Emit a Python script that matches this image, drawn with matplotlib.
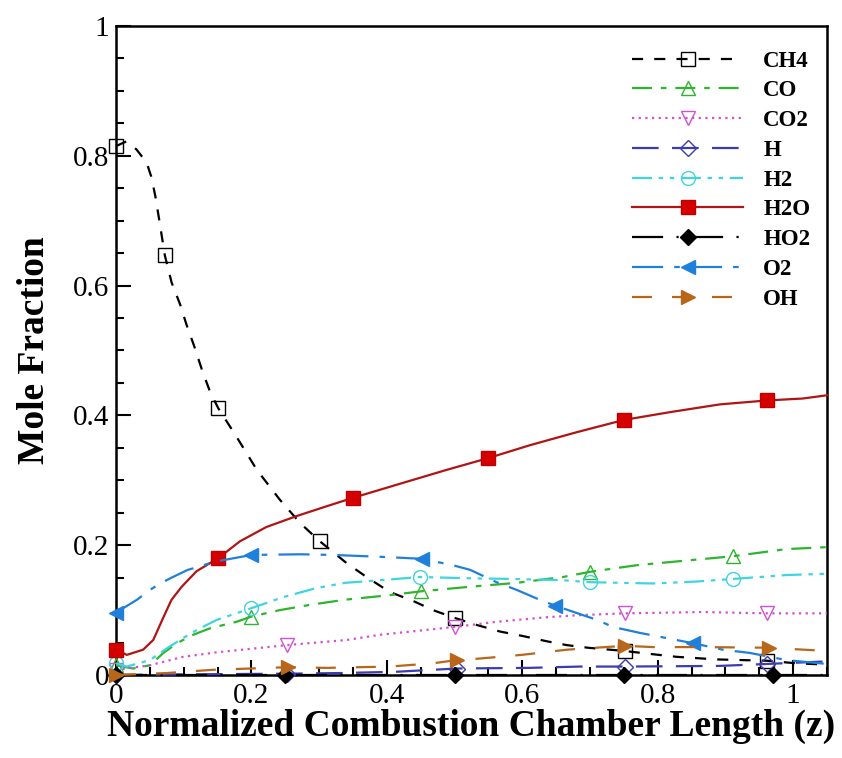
import numpy as np
import matplotlib
matplotlib.use("Agg")
import matplotlib.pyplot as plt
from matplotlib.ticker import MultipleLocator, FormatStrFormatter

# species mole fractions along the chamber (z normalised)
species = ["CH4", "CO", "CO2", "H", "H2", "H2O", "HO2", "O2", "OH"]

ch4_z = [0, 0.015, 0.030, 0.045, 0.052, 0.058, 0.064, 0.072, 0.082, 0.095, 0.104, 0.116,
         0.127, 0.139, 0.151, 0.178, 0.208, 0.242, 0.272, 0.301, 0.341, 0.370, 0.404,
         0.439, 0.468, 0.500, 0.533, 0.567, 0.601, 0.636, 0.666, 0.697, 0.751, 0.793,
         0.828, 0.887, 0.961, 1.005, 1.05]
ch4_y = [0.815, 0.822, 0.810, 0.790, 0.768, 0.738, 0.700, 0.647, 0.605, 0.570, 0.540, 0.505,
         0.470, 0.436, 0.411, 0.367, 0.316, 0.270, 0.234, 0.206, 0.172, 0.151, 0.128,
         0.114, 0.100, 0.088, 0.077, 0.067, 0.060, 0.052, 0.046, 0.042, 0.037, 0.032,
         0.028, 0.024, 0.022, 0.018, 0.016]
ch4_mark = [0, 0.072, 0.151, 0.301, 0.500, 0.751, 0.961]

co_z = [0, 0.025, 0.050, 0.070, 0.090, 0.114, 0.139, 0.178, 0.200, 0.242, 0.286, 0.338,
        0.404, 0.451, 0.523, 0.592, 0.660, 0.700, 0.768, 0.818, 0.911, 0.990, 1.05]
co_y = [0.015, 0.010, 0.015, 0.034, 0.049, 0.062, 0.072, 0.082, 0.090, 0.100, 0.108, 0.116,
        0.123, 0.129, 0.136, 0.142, 0.151, 0.159, 0.169, 0.174, 0.183, 0.194, 0.197]
co_mark = [0, 0.200, 0.451, 0.700, 0.911]

co2_z = [0, 0.050, 0.099, 0.149, 0.252, 0.341, 0.390, 0.463, 0.500, 0.562, 0.636, 0.680,
         0.751, 0.866, 0.962, 1.05]
co2_y = [0.008, 0.015, 0.028, 0.035, 0.046, 0.054, 0.062, 0.070, 0.074, 0.082, 0.089, 0.092,
         0.095, 0.097, 0.095, 0.095]
co2_mark = [0, 0.252, 0.500, 0.751, 0.962]

h_z = [0, 0.100, 0.252, 0.331, 0.414, 0.503, 0.611, 0.685, 0.751, 0.891, 0.961, 1.05]
h_y = [0.0, 0.001, 0.002, 0.003, 0.005, 0.010, 0.011, 0.013, 0.013, 0.014, 0.017, 0.021]
h_mark = [0, 0.252, 0.503, 0.751, 0.961]

h2_z = [0, 0.016, 0.050, 0.075, 0.099, 0.124, 0.149, 0.200, 0.247, 0.296, 0.338, 0.390,
        0.449, 0.523, 0.586, 0.660, 0.700, 0.793, 0.857, 0.911, 0.990, 1.05]
h2_y = [0.018, 0.013, 0.023, 0.041, 0.057, 0.072, 0.085, 0.103, 0.120, 0.134, 0.142, 0.146,
        0.151, 0.149, 0.148, 0.146, 0.143, 0.141, 0.144, 0.148, 0.154, 0.156]
h2_mark = [0, 0.200, 0.449, 0.700, 0.911]

h2o_z = [0, 0.016, 0.040, 0.055, 0.070, 0.082, 0.097, 0.119, 0.151, 0.183, 0.222, 0.267,
         0.311, 0.350, 0.414, 0.488, 0.549, 0.611, 0.680, 0.750, 0.818, 0.892, 0.961,
         1.014, 1.05]
h2o_y = [0.039, 0.031, 0.039, 0.054, 0.089, 0.116, 0.136, 0.160, 0.180, 0.206, 0.228, 0.245,
         0.260, 0.273, 0.293, 0.316, 0.334, 0.354, 0.374, 0.393, 0.405, 0.417, 0.423,
         0.426, 0.431]
h2o_mark = [0, 0.151, 0.350, 0.549, 0.750, 0.961]

ho2_z = [0, 0.25, 0.50, 0.75, 0.97, 1.05]
ho2_y = [0, 0, 0, 0, 0, 0]
ho2_mark = [0, 0.25, 0.50, 0.75, 0.97]

o2_z = [0, 0.006, 0.031, 0.050, 0.062, 0.080, 0.106, 0.129, 0.143, 0.200, 0.272, 0.320,
        0.394, 0.452, 0.498, 0.523, 0.562, 0.592, 0.621, 0.648, 0.710, 0.734, 0.773,
        0.852, 0.896, 0.936, 0.990, 1.05]
o2_y = [0.095, 0.100, 0.116, 0.131, 0.139, 0.149, 0.162, 0.169, 0.174, 0.185, 0.186, 0.185,
        0.182, 0.179, 0.169, 0.162, 0.143, 0.131, 0.118, 0.107, 0.085, 0.074, 0.065,
        0.049, 0.039, 0.034, 0.023, 0.017]
o2_mark = [0, 0.200, 0.452, 0.648, 0.852]

oh_z = [0, 0.075, 0.143, 0.254, 0.311, 0.404, 0.468, 0.503, 0.533, 0.599, 0.666, 0.751,
        0.793, 0.866, 0.965, 1.05]
oh_y = [0.0, 0.003, 0.008, 0.012, 0.011, 0.013, 0.018, 0.023, 0.025, 0.031, 0.039, 0.045,
        0.043, 0.043, 0.042, 0.037]
oh_mark = [0, 0.254, 0.503, 0.751, 0.965]

data = [(ch4_z, ch4_y, ch4_mark), (co_z, co_y, co_mark), (co2_z, co2_y, co2_mark),
        (h_z, h_y, h_mark), (h2_z, h2_y, h2_mark), (h2o_z, h2o_y, h2o_mark),
        (ho2_z, ho2_y, ho2_mark), (o2_z, o2_y, o2_mark), (oh_z, oh_y, oh_mark)]

# line colour, dash pattern, marker, marker face, marker size
styles = [
    ("black",   (0, (5, 5)),             "s", "none",    10),
    ("#2db52d", (0, (9, 4, 2.5, 4)),     "^", "none",    10),
    ("#d24fd2", (0, (1, 2)),             "v", "none",    10),
    ("#3c3cb0", (0, (12, 6)),            "D", "none",    8.5),
    ("#3fd5df", (0, (9, 3, 2, 3, 2, 3)), "o", "none",    10),
    ("#b01414", "-",                     "s", "#d40000", 9.5),
    ("black",   (0, (14, 6, 1, 6)),      "D", "black",   8.5),
    ("#1f80dc", (0, (14, 5, 2.5, 5)),    "<", "#1f80dc", 10),
    ("#b8671a", (0, (9, 9)),             ">", "#b8671a", 10),
]

plt.rcParams["font.family"] = ["Liberation Serif", "DejaVu Serif"]

fig = plt.figure(figsize=(8.42, 7.58), dpi=100)
ax = fig.add_axes([0.1378, 0.1095, 0.8444, 0.8562])

for name, (z, y, mk), (col, ls, m, mfc, ms) in zip(species, data, styles):
    z = np.array(z)
    idx = list(np.where(np.isin(z, mk))[0])
    ax.plot(z, y, color=col, linestyle=ls, linewidth=1.6,
            marker=m, markevery=idx, markersize=ms, markerfacecolor=mfc,
            markeredgecolor=col if name != "H2O" else "#c00000", markeredgewidth=1.0,
            label=name, clip_on=False, zorder=3)

ax.set_xlim(0, 1.05)
ax.set_ylim(0, 1)
ax.xaxis.set_major_locator(MultipleLocator(0.2))
ax.xaxis.set_minor_locator(MultipleLocator(0.05))
ax.yaxis.set_major_locator(MultipleLocator(0.2))
ax.yaxis.set_minor_locator(MultipleLocator(0.05))
ax.xaxis.set_major_formatter(FormatStrFormatter("%g"))
ax.yaxis.set_major_formatter(FormatStrFormatter("%g"))
ax.tick_params(which="both", direction="in", top=False, right=False, width=1.5, labelsize=21)
ax.tick_params(which="major", length=11)
ax.tick_params(which="minor", length=5.5)
ax.tick_params(axis="x", pad=6)
ax.tick_params(axis="y", pad=5)
for s in ax.spines.values():
    s.set_linewidth(1.8)

ax.set_xlabel("Normalized Combustion Chamber Length (z)", fontsize=27, fontweight="bold", labelpad=0)
ax.set_ylabel("Mole Fraction", fontsize=27, fontweight="bold", labelpad=15)

leg = ax.legend(loc="upper left", bbox_to_anchor=(0.726, 0.962), frameon=False,
                prop={"weight": "bold", "size": 16.5}, handlelength=4.85, handletextpad=0.87,
                labelspacing=0.38, borderpad=0, borderaxespad=0, numpoints=1)

fig.savefig("out.png", dpi=100)
